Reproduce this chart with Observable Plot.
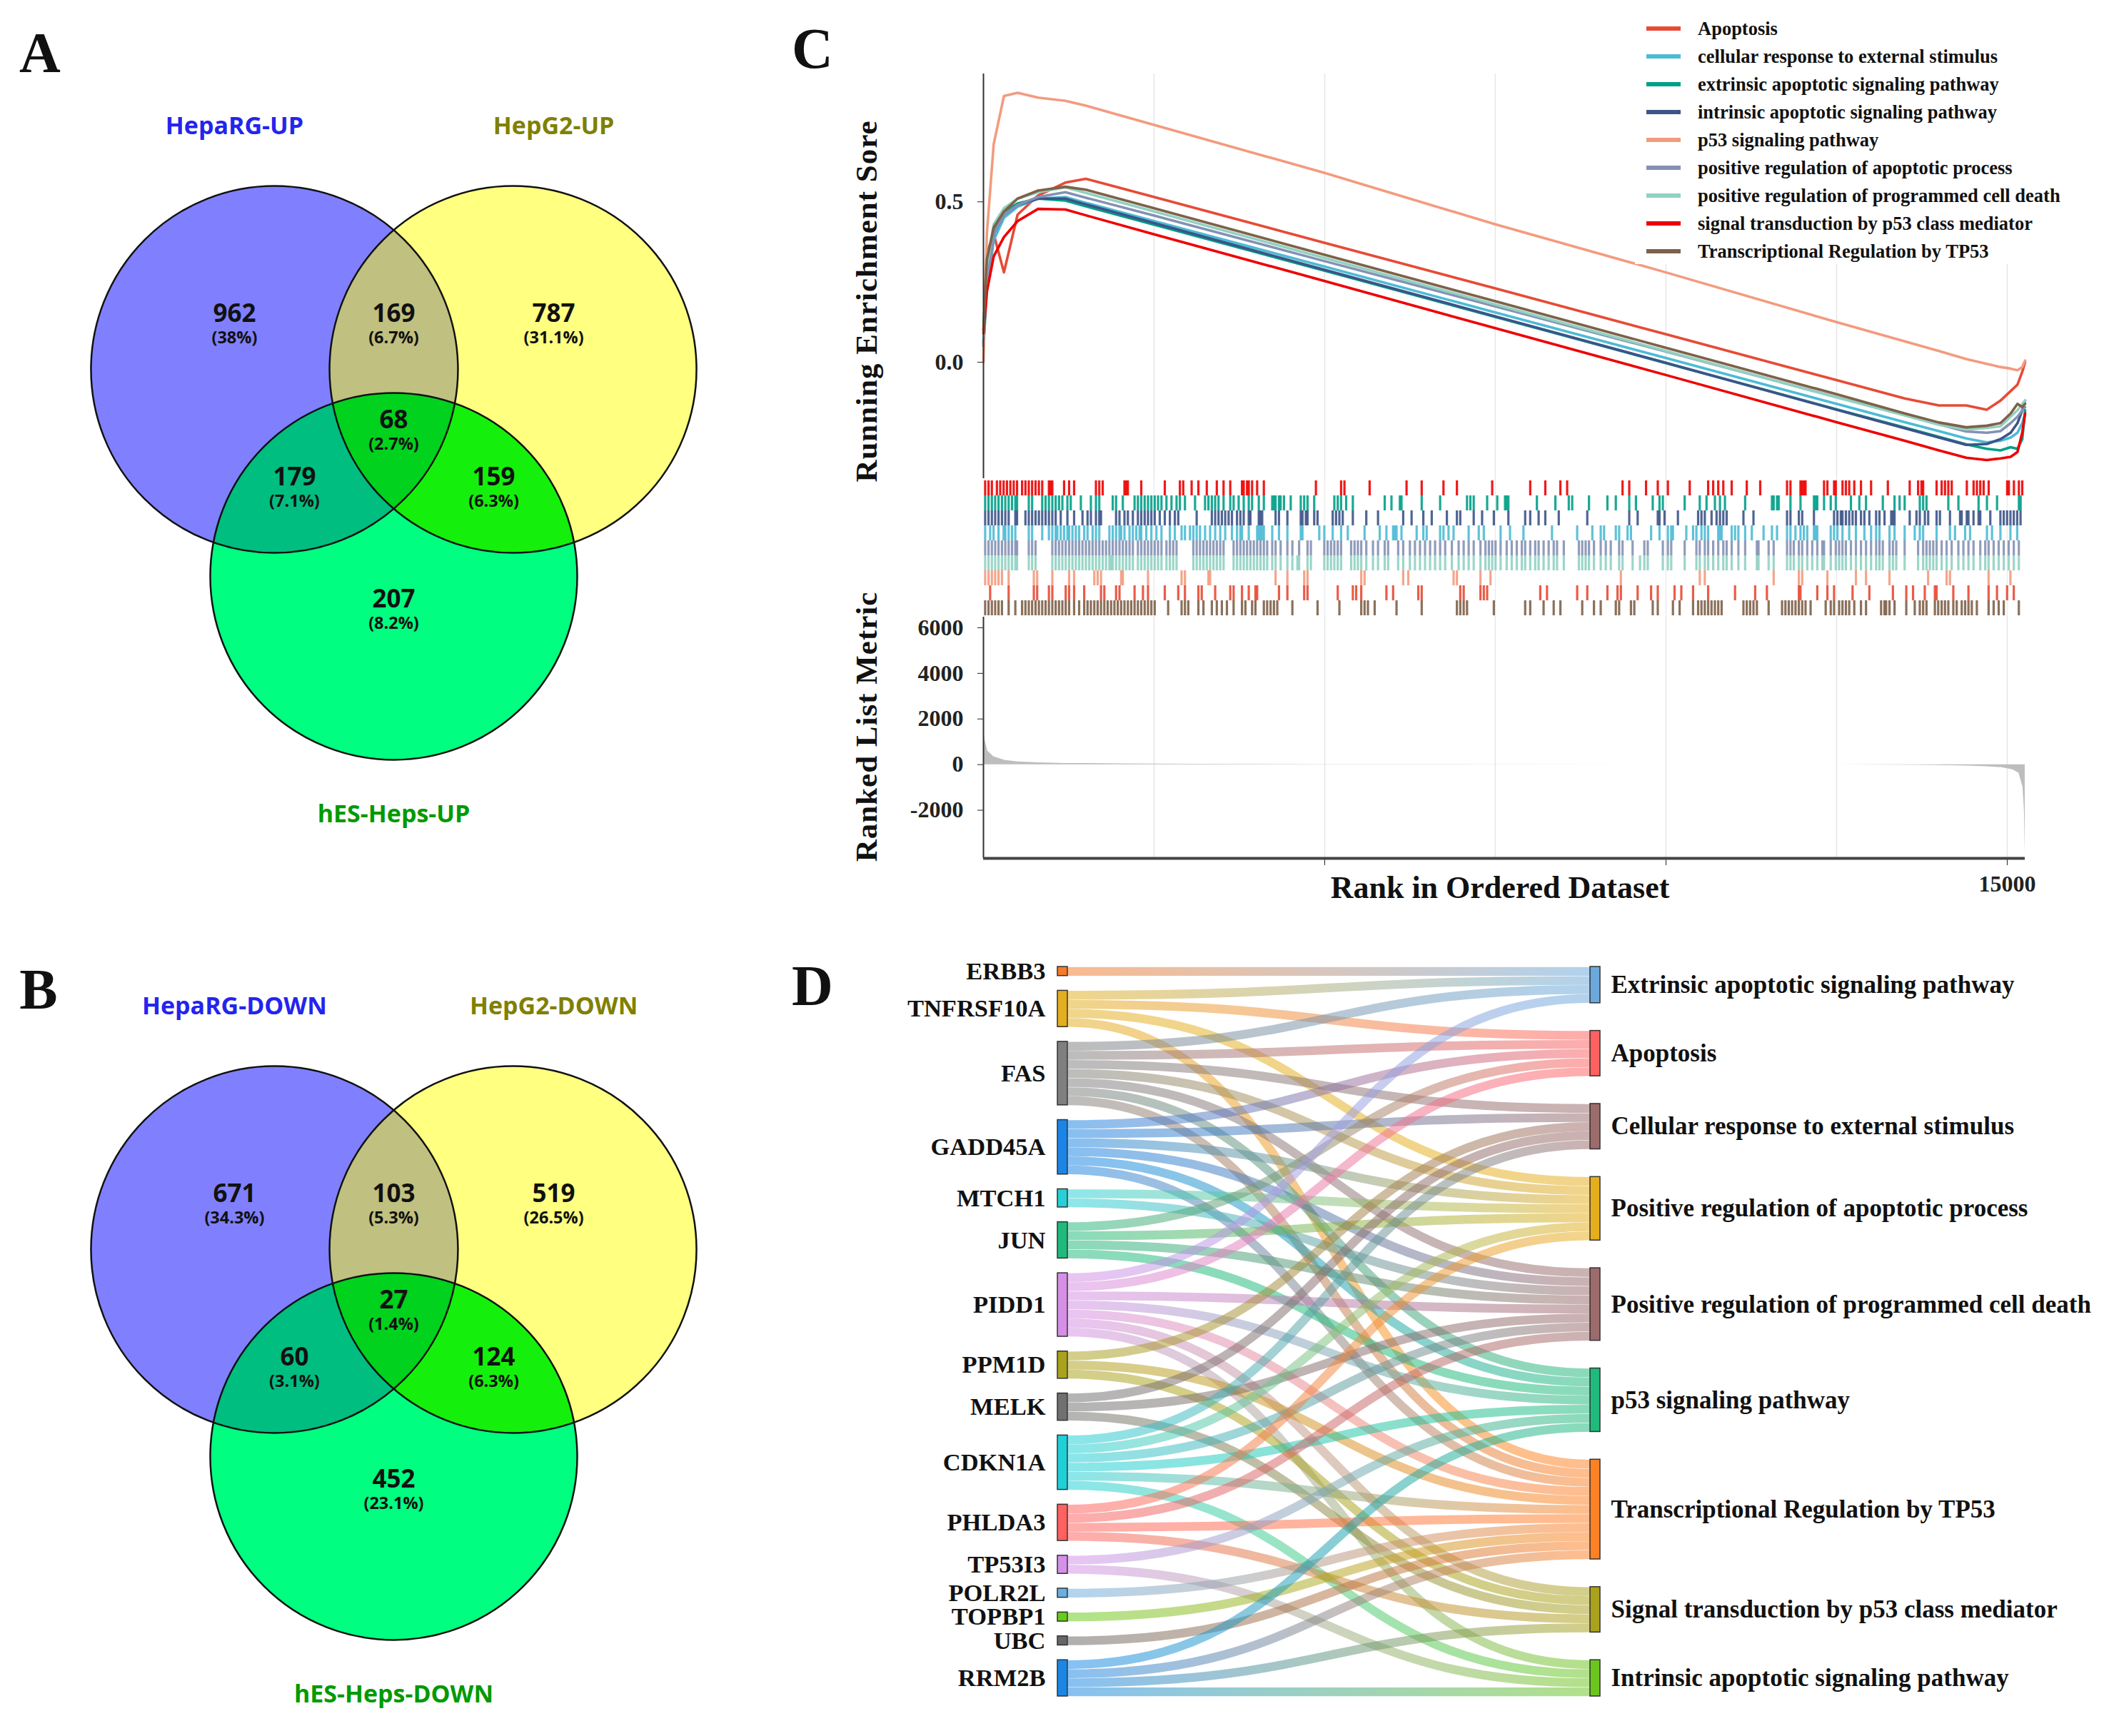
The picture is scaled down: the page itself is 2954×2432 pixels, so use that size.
<!DOCTYPE html>
<html><head><meta charset="utf-8">
<script src="https://cdn.jsdelivr.net/npm/d3@7"></script>
<script src="https://cdn.jsdelivr.net/npm/@observablehq/plot@0.6"></script>
<style>
html,body{margin:0;padding:0;background:#fff;}
#fig{position:relative;width:2954px;height:2432px;background:#fff;overflow:hidden;font-family:"Liberation Serif",serif;color:#111;}
.abs{position:absolute;}
.txt{position:absolute;white-space:nowrap;line-height:1;transform:translate(-50%,-50%);}
svg{overflow:visible;}
</style></head><body><div id="fig"></div>
<script>
// ---------------- DATA ----------------
// Venn (A: up, B: down)
const vennRegions = ["A","AB","B","ABC","AC","BC","C"];
const vennUpTitles = ["HepaRG-UP","HepG2-UP","hES-Heps-UP"];
const vennUpCounts = [962,169,787,68,179,159,207];
const vennUpPct = ["38%","6.7%","31.1%","2.7%","7.1%","6.3%","8.2%"];
const vennDownTitles = ["HepaRG-DOWN","HepG2-DOWN","hES-Heps-DOWN"];
const vennDownCounts = [671,103,519,27,60,124,452];
const vennDownPct = ["34.3%","5.3%","26.5%","1.4%","3.1%","6.3%","23.1%"];

// GSEA (C)
const setNames = ["Apoptosis","cellular response to external stimulus","extrinsic apoptotic signaling pathway","intrinsic apoptotic signaling pathway","p53 signaling pathway","positive regulation of apoptotic process","positive regulation of programmed cell death","signal transduction by p53 class mediator","Transcriptional Regulation by TP53"];
const esRanks = [0,50,150,300,500,800,1200,1500,2500,5000,7500,10000,12500,13500,14000,14400,14700,14900,15050,15150,15220,15262];
const esApoptosis = [0.10,0.34,0.40,0.28,0.46,0.52,0.56,0.572,0.515,0.372,0.23,0.087,-0.056,-0.113,-0.135,-0.135,-0.148,-0.12,-0.09,-0.07,-0.03,0.0];
const esCellular  = [0.05,0.22,0.38,0.45,0.485,0.51,0.515,0.497,0.44,0.298,0.155,0.013,-0.13,-0.187,-0.215,-0.238,-0.25,-0.245,-0.235,-0.22,-0.19,-0.16];
const esExtrinsic = [0.05,0.28,0.41,0.47,0.495,0.51,0.504,0.486,0.429,0.285,0.141,-0.003,-0.147,-0.204,-0.233,-0.256,-0.27,-0.275,-0.265,-0.27,-0.24,-0.15];
const esIntrinsic = [0.06,0.26,0.40,0.46,0.49,0.51,0.51,0.492,0.434,0.288,0.143,-0.002,-0.148,-0.206,-0.235,-0.258,-0.255,-0.24,-0.22,-0.19,-0.15,-0.12];
const esP53       = [0.0,0.40,0.68,0.83,0.84,0.825,0.815,0.80,0.74,0.59,0.43,0.28,0.125,0.065,0.035,0.01,-0.005,-0.015,-0.02,-0.025,-0.015,0.005];
const esPosApop   = [0.07,0.25,0.40,0.46,0.49,0.515,0.53,0.513,0.457,0.315,0.174,0.033,-0.109,-0.165,-0.194,-0.216,-0.22,-0.215,-0.19,-0.17,-0.15,-0.14];
const esPosProg   = [0.08,0.30,0.43,0.48,0.51,0.53,0.545,0.528,0.47,0.325,0.18,0.035,-0.11,-0.166,-0.195,-0.21,-0.205,-0.20,-0.17,-0.15,-0.13,-0.12];
const esSignal    = [0.09,0.22,0.33,0.39,0.44,0.478,0.476,0.458,0.399,0.253,0.106,-0.04,-0.187,-0.245,-0.275,-0.298,-0.305,-0.30,-0.295,-0.28,-0.22,-0.16];
const esTP53      = [0.10,0.32,0.42,0.47,0.51,0.535,0.547,0.538,0.48,0.335,0.19,0.045,-0.10,-0.16,-0.188,-0.203,-0.198,-0.19,-0.16,-0.13,-0.14,-0.13];

const hitsSignal = [25,74,123,197,246,295,344,394,443,492,566,615,664,713,763,812,861,959,984,1009,1181,1255,1328,1648,1697,1747,2066,2091,2116,2312,2657,2878,2927,3050,3149,3272,3419,3518,3616,3788,3813,3862,3887,3936,4010,4108,4871,5240,5289,5658,6199,6421,6740,6937,7454,8011,8232,8453,8552,9364,9462,9708,9880,10028,10348,10618,10692,10766,10840,10963,11184,11381,11774,11824,11971,11995,12020,12045,12316,12365,12463,12488,12587,12636,12685,12759,12857,13005,13251,13571,13694,13743,13768,13965,14039,14088,14137,14187,14408,14507,14556,14605,14654,14728,14999,15024,15098,15171,15220];
const hitsExtrinsic = [25,74,123,172,221,271,320,369,418,467,492,664,713,861,910,959,1009,1058,1107,1156,1230,1279,1427,1574,1648,1697,1894,1943,2042,2214,2263,2312,2362,2411,2460,2509,2558,2608,2681,2755,2829,2878,2952,3100,3247,3296,3346,3395,3444,3518,3616,3665,3739,3813,3887,3936,4034,4108,4231,4256,4280,4330,4354,4403,4502,4649,4699,4748,4846,5141,5191,5240,5314,5412,5879,5978,6101,6125,6421,6691,7085,7134,7183,7380,7528,7642,7666,7691,8109,8380,8576,8626,8872,9142,9265,9462,9560,9806,9905,9954,10274,10495,10594,10717,10791,10864,11160,11553,11578,11627,11651,11824,11971,12168,12193,12217,12316,12414,12488,12710,12833,12931,13177,13349,13423,13497,13719,13768,13817,14137,14285,14580,14703,14851,15171,15196];
const hitsIntrinsic = [25,74,123,172,221,271,320,369,467,492,615,664,713,763,812,861,910,959,1009,1058,1132,1230,1328,1451,1525,1574,1648,1697,1722,1943,1993,2066,2116,2189,2263,2312,2362,2411,2460,2509,2583,2657,2731,2804,2854,3124,3346,3395,3444,3493,3542,3592,3641,3715,3764,3813,3887,3911,4034,4059,4084,4280,4330,4453,4649,4674,4723,4748,4846,4895,5117,5166,5215,5264,5412,5609,5781,6150,6273,6445,6568,6790,6937,6986,7183,7306,7478,7691,7937,8011,8134,8232,8429,8847,9462,9585,9880,9905,9979,10175,10471,10520,10569,10668,10741,10791,10840,10889,11135,11282,11774,11824,11947,11996,12168,12463,12512,12562,12586,12636,12685,12734,12783,12857,12907,12980,13079,13128,13202,13300,13325,13349,13571,13670,13719,13793,13842,13965,14014,14161,14309,14333,14407,14432,14506,14580,14605,14752,14900,14949,14998,15047,15096,15146,15195];
const hitsCellular = [25,98,148,221,295,320,369,418,467,664,713,861,959,1009,1058,1082,1132,1181,1230,1255,1304,1353,1402,1476,1525,1599,1648,1697,1845,1894,1943,1993,2017,2066,2140,2189,2239,2288,2312,2386,2460,2534,2608,2731,2804,2903,2952,3026,3075,3124,3173,3247,3321,3395,3469,3542,3641,3715,3764,3788,3887,4010,4034,4059,4084,4108,4231,4330,4453,4649,4674,4920,4994,5117,5240,5338,5584,5806,5904,6002,6027,6052,6125,6347,6445,6494,6691,6740,6814,6888,7109,7257,7331,7577,7715,7912,8330,8699,8921,9044,9093,9265,9314,9437,9487,9782,9905,10028,10077,10102,10298,10397,10446,10520,10569,10618,10766,10791,10815,10963,11012,11061,11160,11258,11430,11553,11627,11774,11824,11897,11971,12020,12070,12168,12193,12217,12414,12463,12512,12586,12685,12783,12907,13005,13079,13128,13275,13349,13497,13645,13719,13768,13965,14161,14235,14383,14456,14703,14777,14900,15047,15146];
const hitsPosApop = [25,74,123,172,221,271,320,369,418,467,492,664,713,763,1009,1058,1107,1156,1205,1255,1304,1353,1402,1451,1501,1550,1599,1648,1697,1747,1796,1845,1894,1943,1993,2042,2091,2140,2189,2263,2312,2362,2411,2460,2509,2558,2608,2681,2731,2780,2829,3075,3124,3173,3223,3272,3321,3370,3419,3469,3518,3665,3715,3764,3813,3862,3911,3961,4010,4059,4108,4157,4231,4280,4354,4453,4526,4625,4748,4797,4994,5043,5092,5141,5191,5240,5387,5437,5486,5535,5609,5707,5781,5879,5929,6076,6150,6248,6322,6396,6470,6544,6617,6691,6765,6863,6962,7036,7109,7183,7282,7355,7405,7454,7503,7577,7666,7740,7814,7888,7937,8011,8084,8134,8207,8281,8355,8404,8503,8724,8773,8823,8872,8945,9044,9118,9191,9314,9364,9511,9683,9733,9954,10028,10077,10274,10446,10495,10569,10618,10692,10766,10840,10889,10963,11061,11160,11332,11356,11504,11578,11774,11824,11873,11947,11996,12070,12143,12217,12291,12316,12414,12488,12537,12586,12636,12710,12783,12857,12931,13005,13079,13128,13177,13275,13325,13374,13497,13694,13768,13817,13866,13916,13965,14039,14112,14186,14284,14358,14432,14506,14605,14678,14727,14801,14875,14949,15022,15096,15170];
const hitsPosProgExtra = [1870,4600,9620];
const hitsP53 = [25,74,123,172,221,271,369,738,787,1009,1255,1328,1624,1673,1722,2017,2042,2411,2903,2952,3296,3321,4280,4453,4699,4748,5535,5584,6150,6224,6888,6937,7282,7429,9339,10495,10569,11578,11947,11996,12365,12783,12931,13275,13841,14112,14161,14727,15047];
const hitsApoptosis = [98,369,738,787,959,1009,1205,1255,1328,1476,1722,1771,1943,1993,2214,2337,2411,2657,2854,2952,3149,3198,3395,3616,3665,3788,3887,3985,4010,4330,4453,4699,4748,5191,5412,5461,5535,5904,6002,6371,6421,6986,7036,7282,7331,7380,8158,8257,8699,8847,9142,9290,9339,9585,9782,9880,10126,10225,10397,10618,11012,11307,11479,11947,11971,12217,12365,12463,12734,12980,13325,13521,13620,13792,13940,13965,14210,14432,14727,14850,14998,15096];
const hitsTP53 = [25,74,123,172,221,271,369,467,566,615,664,713,763,812,861,910,959,1009,1058,1107,1156,1205,1255,1328,1402,1476,1525,1574,1624,1673,1722,1771,1820,1870,1919,1968,2017,2066,2116,2165,2214,2263,2312,2362,2411,2460,2509,2706,2903,2952,3001,3149,3223,3346,3419,3493,3567,3665,3788,3838,3936,3985,4108,4157,4207,4256,4305,4526,4895,5215,5535,5584,5633,5732,6052,6421,6937,6986,7036,7085,7478,7937,8011,8207,8355,8453,8773,8945,9044,9265,9314,9487,9536,9806,9880,10102,10200,10397,10471,10520,10569,10618,10667,10717,10766,10815,11135,11184,11233,11282,11332,11504,11701,11750,11799,11848,11898,11947,11996,12045,12119,12340,12414,12463,12537,12586,12636,12685,12759,12857,12931,13152,13201,13226,13275,13349,13521,13645,13719,13768,13817,13940,13989,14039,14088,14137,14210,14260,14333,14383,14432,14481,14555,14727,14801,14875,14949,15170];

const metricRanks  = [0,20,60,150,310,500,800,1200,2000,3000,5000,10000,12500,13560,14000,14430,14700,14920,15080,15170,15230,15250,15262];
const metricValues = [1500,1100,600,350,190,120,80,55,40,20,5,0,-5,-20,-35,-60,-90,-130,-220,-370,-1000,-2000,-3900];
const esYTicks = [0, 0.5];
const metricYTicks = [-2000, 0, 2000, 4000, 6000];
const rankTicks = [5000, 10000, 15000];
const rankGrid = [2500, 5000, 7500, 10000, 12500, 15000];

// Sankey (D)
const sankeyGenes = ["ERBB3","TNFRSF10A","FAS","GADD45A","MTCH1","JUN","PIDD1","PPM1D","MELK","CDKN1A","PHLDA3","TP53I3","POLR2L","TOPBP1","UBC","RRM2B"];
const pathwayKeys = ["Extrinsic","Apoptosis","Cellular","PosApop","PosProg","p53","Trans","Signal","Intrinsic"];
const pathwayLabels = ["Extrinsic apoptotic signaling pathway","Apoptosis","Cellular response to external stimulus","Positive regulation of apoptotic process","Positive regulation of programmed cell death","p53 signaling pathway","Transcriptional Regulation by TP53","Signal transduction by p53 class mediator","Intrinsic apoptotic signaling pathway"];
const sankeyLinks = [
  ["ERBB3","Extrinsic"],
  ["TNFRSF10A","Extrinsic"],["TNFRSF10A","Apoptosis"],["TNFRSF10A","PosApop"],["TNFRSF10A","Trans"],
  ["FAS","Extrinsic"],["FAS","Apoptosis"],["FAS","Cellular"],["FAS","PosApop"],["FAS","PosProg"],["FAS","p53"],["FAS","Trans"],
  ["GADD45A","Apoptosis"],["GADD45A","Cellular"],["GADD45A","PosApop"],["GADD45A","PosProg"],["GADD45A","p53"],["GADD45A","Trans"],
  ["MTCH1","PosApop"],["MTCH1","PosProg"],
  ["JUN","Apoptosis"],["JUN","PosApop"],["JUN","PosProg"],["JUN","p53"],
  ["PIDD1","Extrinsic"],["PIDD1","Apoptosis"],["PIDD1","PosProg"],["PIDD1","p53"],["PIDD1","Trans"],["PIDD1","Signal"],["PIDD1","Intrinsic"],
  ["PPM1D","Cellular"],["PPM1D","Trans"],["PPM1D","Signal"],
  ["MELK","Cellular"],["MELK","PosProg"],["MELK","Signal"],
  ["CDKN1A","Cellular"],["CDKN1A","PosApop"],["CDKN1A","PosProg"],["CDKN1A","p53"],["CDKN1A","Trans"],["CDKN1A","Intrinsic"],
  ["PHLDA3","PosApop"],["PHLDA3","PosProg"],["PHLDA3","Trans"],["PHLDA3","Signal"],
  ["TP53I3","p53"],["TP53I3","Intrinsic"],
  ["POLR2L","Trans"],["TOPBP1","Trans"],["UBC","Trans"],
  ["RRM2B","p53"],["RRM2B","Trans"],["RRM2B","Signal"],["RRM2B","Intrinsic"]
];

// ---------------- STYLE / LAYOUT ----------------
const SERIF = "Liberation Serif, Times New Roman, serif";
const SANS = "Open Sans, DejaVu Sans, sans-serif";
const setColors = ["#E64B35","#4DBBD5","#00A087","#3C5488","#F39B7F","#8491B4","#91D1C2","#EE0000","#7E6148"];
const hitRowOrder = [7,2,3,1,5,6,4,0,8];
const geneColors = ["#F47B2A","#E3AE1F","#7F7F7F","#1A85E6","#26D0D6","#1FBA7C","#D58FE6","#AAA21C","#707070","#1ED0D8","#FF6060","#D590EA","#6AAEE2","#66CC1A","#666666","#1A87E6"];
const pathwayColors = ["#6BA9DC","#FF6060","#9C6B6B","#E5AE1C","#9C6B6B","#1FBA7C","#FF8125","#AAA21C","#6CC51E"];
const VENN = {
  unit: 257, origin: [551, 517],
  centers: [[-0.65, 0], [0.65, 0], [0, 1.128]],
  anchors: {A:[-0.868,-0.28], AB:[0,-0.28], B:[0.872,-0.28], ABC:[0,0.30], AC:[-0.541,0.611], BC:[0.545,0.611], C:[0,1.276]},
  titles: [[-0.868,-1.323],[0.872,-1.323],[0,2.428]],
  colors: {A:"#8080FF", B:"#FFFF80", C:"#00FF80", AB:"#C0C080", AC:"#00BE80", BC:"#14F00C", ABC:"#00D21E"},
  titleColors: ["#2424EE","#808000","#009A00"]
};
const SANKEY = {gapLeft: 1.63, nodeW: 14/760};

const fig = document.getElementById("fig");
function place(node, left, top) {
  const d = document.createElement("div");
  d.className = "abs"; d.style.left = left + "px"; d.style.top = top + "px";
  d.appendChild(node); fig.appendChild(d); return d;
}
function text(str, cx, cy, css) {
  const d = document.createElement("div");
  d.className = "txt"; d.textContent = str;
  d.style.left = cx + "px"; d.style.top = cy + "px";
  Object.assign(d.style, css || {});
  fig.appendChild(d); return d;
}

// ---------------- VENN ----------------
function vennPlot(counts, pcts, titles, H) {
  const W = 1100, u = VENN.unit, [ox, oy] = VENN.origin, C = VENN.centers;
  const inside = (c, x, y) => (x - c[0]) ** 2 + (y - c[1]) ** 2 <= 1;
  const fill = (x, y) => {
    const key = (inside(C[0], x, y) ? "A" : "") + (inside(C[1], x, y) ? "B" : "") + (inside(C[2], x, y) ? "C" : "");
    return VENN.colors[key] || "#ffffff";
  };
  const regionData = vennRegions.map((k, i) => ({x: VENN.anchors[k][0], y: VENN.anchors[k][1], n: String(counts[i]), p: "(" + pcts[i] + ")"}));
  const titleData = titles.map((t, i) => ({x: VENN.titles[i][0], y: VENN.titles[i][1], t, c: VENN.titleColors[i]}));
  return Plot.plot({
    width: W, height: H, margin: 0,
    style: {overflow: "visible", background: "transparent"},
    x: {domain: [-ox / u, (W - ox) / u], range: [0, W], axis: null},
    y: {domain: [-oy / u, (H - oy) / u], range: [0, H], axis: null},
    color: {type: "identity"},
    marks: [
      Plot.raster({fill, x1: -1.7, x2: 1.7, y1: -1.05, y2: 2.2, width: 874, height: 836, imageRendering: "auto"}),
      Plot.dot(C.map(c => ({x: c[0], y: c[1]})), {x: "x", y: "y", r: u, stroke: "#111", strokeWidth: 2.5, fill: "none"}),
      Plot.text(regionData, {x: "x", y: "y", text: "n", dy: -6, fontSize: 35, fontWeight: 700, fontFamily: SANS, fill: "#111"}),
      Plot.text(regionData, {x: "x", y: "y", text: "p", dy: 28, fontSize: 23.5, fontWeight: 700, fontFamily: SANS, fill: "#111"}),
      Plot.text(titleData, {x: "x", y: "y", text: "t", fill: "c", fontSize: 34, fontWeight: 700, fontFamily: SANS})
    ]
  });
}

// ---------------- GSEA ----------------
const C_LEFT = 1100, C_W = 1854, C_ML = 277, C_MR = 118;
const rankDomain = [0, 15262];
const esDomain = [-0.363, 0.899];
const metricDomain = [-4110, 6467];
const colorScale = {domain: setNames, range: setColors};
const plotStyle = {overflow: "visible", background: "transparent", fontFamily: SERIF, fontSize: "32px", fontWeight: "bold", color: "#222"};

function esPlot() {
  const esSeries = [esApoptosis, esCellular, esExtrinsic, esIntrinsic, esP53, esPosApop, esPosProg, esSignal, esTP53];
  const rows = [];
  esSeries.forEach((vals, s) => vals.forEach((v, i) => rows.push({set: setNames[s], rank: esRanks[i], es: v})));
  return Plot.plot({
    width: C_W, height: 610, marginLeft: C_ML, marginRight: C_MR, marginTop: 43, marginBottom: 0,
    style: plotStyle,
    x: {domain: rankDomain, axis: null},
    y: {domain: esDomain, axis: null},
    color: colorScale,
    marks: [
      Plot.ruleX(rankGrid, {stroke: "#e6e6e6", strokeWidth: 1.5}),
      Plot.line(rows, {x: "rank", y: "es", z: "set", stroke: "set", strokeWidth: 3.6}),
      Plot.axisY({ticks: esYTicks, tickFormat: d3.format(".1f"), tickSize: 8, tickPadding: 20, label: null}),
      Plot.ruleX([rankDomain[0]], {stroke: "#333", strokeWidth: 2})
    ]
  });
}
function hitsPlot() {
  const hitSets = [hitsApoptosis, hitsCellular, hitsExtrinsic, hitsIntrinsic, hitsP53, hitsPosApop, hitsPosApop.concat(hitsPosProgExtra), hitsSignal, hitsTP53];
  const rows = [];
  hitSets.forEach((arr, s) => arr.forEach(r => rows.push({set: setNames[s], rank: r})));
  return Plot.plot({
    width: C_W, height: 194, marginLeft: C_ML, marginRight: C_MR, marginTop: 0, marginBottom: 0,
    style: plotStyle,
    x: {domain: rankDomain, axis: null},
    y: {domain: hitRowOrder.map(i => setNames[i]), padding: 0, axis: null},
    color: colorScale,
    marks: [
      Plot.ruleX(rankGrid, {stroke: "#ececec", strokeWidth: 1.5}),
      Plot.tickX(rows, {x: "rank", y: "set", stroke: "set", strokeWidth: 3.2, strokeOpacity: 0.9})
    ]
  });
}
function metricPlot() {
  const rows = metricRanks.map((r, i) => ({rank: r, metric: metricValues[i]}));
  return Plot.plot({
    width: C_W, height: 408, marginLeft: C_ML, marginRight: C_MR, marginTop: 0, marginBottom: 70,
    style: plotStyle,
    x: {domain: rankDomain, axis: null},
    y: {domain: metricDomain, axis: null},
    marks: [
      Plot.ruleX(rankGrid, {stroke: "#e6e6e6", strokeWidth: 1.5}),
      Plot.areaY(rows, {x: "rank", y: "metric", fill: "#bdbdbd"}),
      Plot.axisY({ticks: metricYTicks, tickFormat: d => String(d), tickSize: 8, tickPadding: 20, label: null}),
      Plot.axisX({ticks: rankTicks, tickFormat: d => d === 15000 ? String(d) : "", tickSize: 10, tickPadding: 14, anchor: "bottom", label: null}),
      Plot.ruleX([rankDomain[0]], {stroke: "#333", strokeWidth: 2}),
      Plot.ruleY([metricDomain[0]], {stroke: "#444", strokeWidth: 4})
    ]
  });
}

// ---------------- SANKEY ----------------
function sankeyPlot() {
  const W = 1854, H = 1132, mt = 54, mb = 56;
  const outCount = sankeyGenes.map(g => sankeyLinks.filter(l => l[0] === g).length);
  const inCount = pathwayKeys.map(k => sankeyLinks.filter(l => l[1] === k).length);
  const total = d3.sum(outCount);
  const T = total + (sankeyGenes.length - 1) * SANKEY.gapLeft;
  const gapR = (T - total) / (pathwayKeys.length - 1);
  const unitPx = (H - mt - mb) / T;
  let acc = 0;
  const L = sankeyGenes.map((g, i) => { const n = {name: g, y0: acc, y1: acc + outCount[i], color: geneColors[i], off: acc}; acc += outCount[i] + SANKEY.gapLeft; return n; });
  acc = 0;
  const R = pathwayKeys.map((k, i) => { const n = {name: pathwayLabels[i], y0: acc, y1: acc + inCount[i], color: pathwayColors[i], off: acc}; acc += inCount[i] + gapR; return n; });
  const gi = new Map(sankeyGenes.map((g, i) => [g, i])), pi = new Map(pathwayKeys.map((k, i) => [k, i]));
  const links = sankeyLinks.map(([g, k]) => ({s: gi.get(g), t: pi.get(k)}));
  links.slice().sort((a, b) => a.s - b.s || a.t - b.t).forEach(l => { l.sy = L[l.s].off + 0.5; L[l.s].off += 1; });
  links.slice().sort((a, b) => a.t - b.t || a.s - b.s).forEach(l => { l.ty = R[l.t].off + 0.5; R[l.t].off += 1; });
  const nw = SANKEY.nodeW;
  const svg = Plot.plot({
    width: W, height: H, margin: 0,
    style: {overflow: "visible", background: "transparent", fontFamily: SERIF},
    x: {domain: [0, 1], range: [381, 1141], axis: null},
    y: {domain: [0, T], range: [mt, H - mb], axis: null},
    color: {type: "identity"},
    marks: [
      Plot.link(links, {x1: nw, x2: 1 - nw, y1: "sy", y2: "ty", curve: "bump-x", stroke: l => L[l.s].color, strokeWidth: unitPx * 0.97, strokeOpacity: 0.52}),
      Plot.rect(L, {x1: 0, x2: nw, y1: "y0", y2: "y1", fill: "color", stroke: "#333", strokeWidth: 1.5}),
      Plot.rect(R, {x1: 1 - nw, x2: 1, y1: "y0", y2: "y1", fill: "color", stroke: "#333", strokeWidth: 1.5}),
      Plot.text(L, {x: 0, y: d => (d.y0 + d.y1) / 2, text: "name", textAnchor: "end", dx: -17, fontSize: 34.5, fontWeight: 700, fontFamily: SERIF, fill: "#111"}),
      Plot.text(R, {x: 1, y: d => (d.y0 + d.y1) / 2, text: "name", textAnchor: "start", dx: 15, fontSize: 35, fontWeight: 700, fontFamily: SERIF, fill: "#111"})
    ]
  });
  // gradient strokes from source colour to target colour
  const ns = "http://www.w3.org/2000/svg";
  const defs = document.createElementNS(ns, "defs");
  svg.insertBefore(defs, svg.firstChild);
  const xs = svg.scale("x");
  const gx1 = xs.apply(nw), gx2 = xs.apply(1 - nw);
  const paths = svg.querySelectorAll('g[aria-label="link"] path');
  paths.forEach((p, i) => {
    const l = links[i];
    const g = document.createElementNS(ns, "linearGradient");
    g.setAttribute("id", "sg" + i);
    g.setAttribute("gradientUnits", "userSpaceOnUse");
    g.setAttribute("x1", gx1); g.setAttribute("x2", gx2); g.setAttribute("y1", 0); g.setAttribute("y2", 0);
    [[0, L[l.s].color], [1, R[l.t].color]].forEach(([o, c]) => {
      const st = document.createElementNS(ns, "stop");
      st.setAttribute("offset", o); st.setAttribute("stop-color", c);
      g.appendChild(st);
    });
    defs.appendChild(g);
    p.setAttribute("stroke", "url(#sg" + i + ")");
  });
  return svg;
}

// ---------------- ASSEMBLE ----------------
try {
  place(vennPlot(vennUpCounts, vennUpPct, vennUpTitles, 1230), 0, 0);
  place(vennPlot(vennDownCounts, vennDownPct, vennDownTitles, 1199), 0, 1233);
  place(esPlot(), C_LEFT, 60);
  place(hitsPlot(), C_LEFT, 670);
  place(metricPlot(), C_LEFT, 864);
  place(sankeyPlot(), 1100, 1300);

  // legend for C
  const leg = document.createElement("div");
  leg.className = "abs";
  Object.assign(leg.style, {left: "2290px", top: "12px", width: "664px", height: "358px", background: "#fff"});
  fig.appendChild(leg);
  setNames.forEach((n, i) => {
    const cy = 39.5 + 39 * i;
    const sw = document.createElement("div");
    sw.className = "abs";
    Object.assign(sw.style, {left: "2306px", top: (cy - 3) + "px", width: "48px", height: "6px", background: setColors[i]});
    fig.appendChild(sw);
    const t = document.createElement("div");
    t.className = "abs"; t.textContent = n;
    Object.assign(t.style, {left: "2378px", top: (cy - 14) + "px", fontSize: "26.5px", fontWeight: "bold", lineHeight: "28px", whiteSpace: "nowrap", fontFamily: SERIF});
    fig.appendChild(t);
  });

  const axisTitle = {fontFamily: SERIF, fontWeight: "bold", fontSize: "43px", letterSpacing: "1px"};
  text("Running Enrichment Sore", 1213, 422, Object.assign({transform: "translate(-50%,-50%) rotate(-90deg)"}, axisTitle));
  text("Ranked List Metric", 1213, 1018, Object.assign({transform: "translate(-50%,-50%) rotate(-90deg)"}, axisTitle));
  text("Rank in Ordered Dataset", 2101, 1244, {fontFamily: SERIF, fontWeight: "bold", fontSize: "44px"});

  const letter = {fontFamily: SERIF, fontWeight: "bold", fontSize: "80px"};
  text("A", 56, 74, letter);
  text("B", 54, 1386, letter);
  text("C", 1138, 68, letter);
  text("D", 1138, 1381, letter);
} catch (e) {
  const pre = document.createElement("pre"); pre.textContent = e.stack || String(e);
  pre.style.cssText = "position:absolute;left:10px;top:10px;color:red;font-size:24px;z-index:9";
  fig.appendChild(pre);
}
</script></body></html>
